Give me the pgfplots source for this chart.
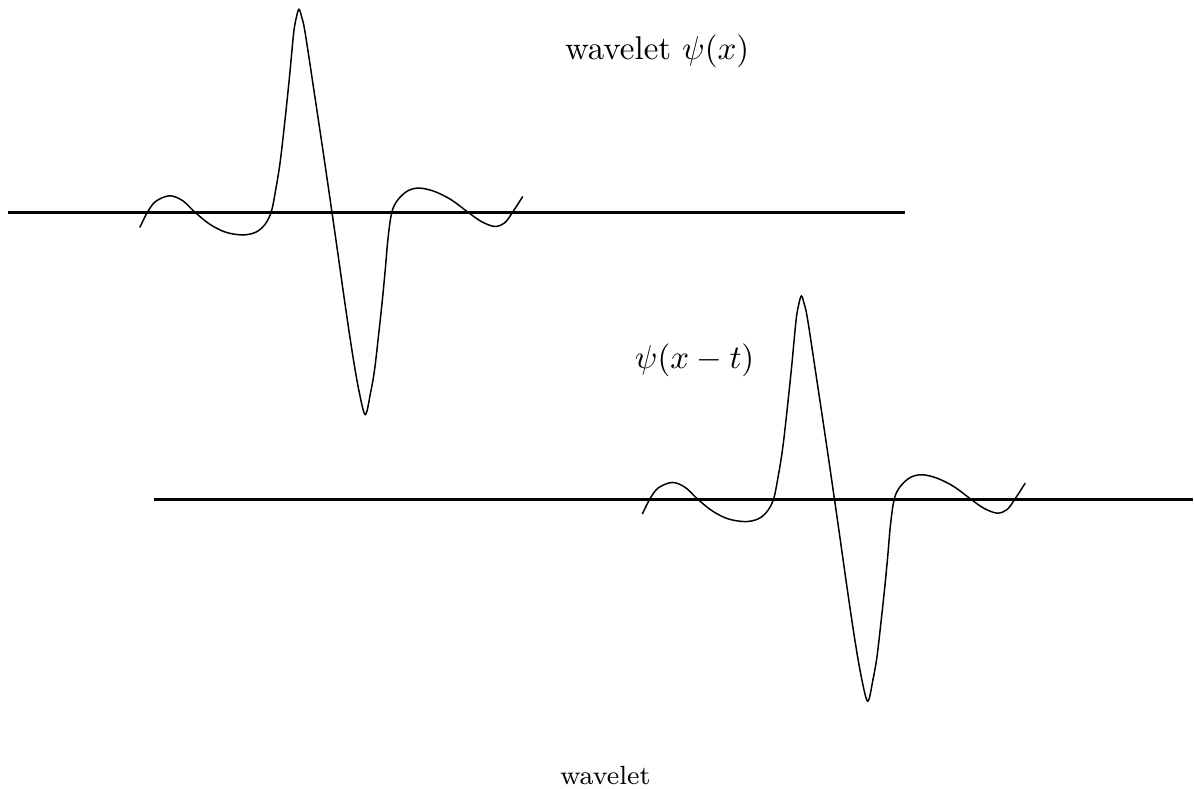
\documentclass[border=0pt]{standalone}
\usepackage{pgfplots}
\pgfplotsset{compat=1.18}

\begin{document}
\begin{tikzpicture}
\begin{axis}[
    width=362pt, height=239.2pt, scale only axis,
    xmin=0, xmax=1194, ymin=0, ymax=789,
    y dir=reverse,
    hide axis, clip=false,
  ]
  % invisible frame: keeps the page the size of the reference
  \path (axis cs:0,0) rectangle (axis cs:1194,789);

  % baselines
  \addplot[black, line width=0.8pt] coordinates {(8,212.5) (906,212.5)};
  \addplot[black, line width=0.8pt] coordinates {(154,500) (1194,500)};

  % wavelet psi(x)
  \addplot[black, line width=0.45pt, smooth, tension=0.55] coordinates {
    (140,227.7) (147.7,212.3) (156,201.5) (170,196) (183,201)
    (195,212.3) (210,224.5) (226,232.5) (243,235.2) (256,232.5)
    (265,225) (271.5,212.3) (276,190) (280.5,162) (285,123)
    (289.5,80) (294,33) (296.8,17) (299.3,9.3) (302,17)
    (305.5,33) (315.7,100) (325.7,167) (335.7,236) (345.5,305)
    (353,355) (359.5,392) (365.7,415) (371,393) (375,370)
    (378.7,338) (382.3,305) (385.5,272) (388.5,238) (392.3,212.3)
    (398.3,200) (408.3,191) (420,188.3) (435,191.7) (451.7,200)
    (468.3,212.3) (481.7,221.7) (495,226.7) (505,223.3) (513.3,212.3)
    (523.3,196.7)
  };

  % shifted wavelet psi(x-t)
  \addplot[black, line width=0.45pt, smooth, tension=0.55] coordinates {
    (643,514.7) (650.7,499.3) (659,488.5) (673,483) (686,488)
    (698,499.3) (713,511.5) (729,519.5) (746,522.2) (759,519.5)
    (768,512) (774.5,499.3) (779,477) (783.5,449) (788,410)
    (792.5,367) (797,320) (799.8,304) (802.3,296.3) (805,304)
    (808.5,320) (818.7,387) (828.7,454) (838.7,523) (848.5,592)
    (856,642) (862.5,679) (868.7,702) (874,680) (878,657)
    (881.7,625) (885.3,592) (888.5,559) (891.5,525) (895.3,499.3)
    (901.3,487) (911.3,478) (923,475.3) (938,478.7) (954.7,487)
    (971.3,499.3) (984.7,508.7) (998,513.7) (1008,510.3) (1016.3,499.3)
    (1026.3,483.7)
  };

  \node[anchor=base west, inner sep=0] at (axis cs:565,60) {wavelet $\psi(x)$};
  \node[anchor=base west, inner sep=0] at (axis cs:635,369) {$\psi(x-t)$};
  \node[anchor=base, inner sep=0, font=\footnotesize] at (axis cs:606,785) {wavelet};
\end{axis}
\end{tikzpicture}
\end{document}
